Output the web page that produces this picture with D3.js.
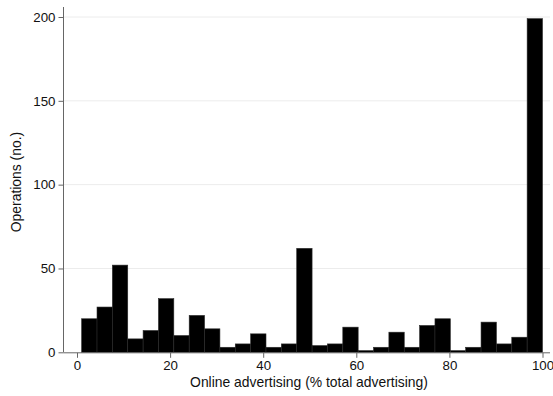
<!DOCTYPE html>
<html>
<head>
<meta charset="utf-8">
<script src="https://cdn.jsdelivr.net/npm/d3@7"></script>
<style>
  body { margin: 0; background: #fff; }
  text { font-family: "Liberation Sans", Arial, sans-serif; fill: #111; }
</style>
</head>
<body>
<div id="chart"></div>
<script>
// histogram: 30 bins, start 1, width 3.3
const binStart = 1;
const binWidth = 3.3;
const counts = [20, 27, 52, 8, 13, 32, 10, 22, 14, 3,
                5, 11, 3, 5, 62, 4, 5, 15, 1, 3,
                12, 3, 16, 20, 1, 3, 18, 5, 9, 199];
const xTicks = [0, 20, 40, 60, 80, 100];
const yTicks = [0, 50, 100, 150, 200];

const W = 553, H = 396;
const margin = {top: 7, right: 3, bottom: 44, left: 64};

const svg = d3.select('#chart').append('svg')
  .attr('width', W).attr('height', H);

const x = d3.scaleLinear().domain([0, 100]).range([77, 542.5]);
const y = d3.scaleLinear().domain([0, 200]).range([352.3, 17]);

const bins = counts.map((c, i) => ({x0: binStart + i * binWidth, x1: binStart + (i + 1) * binWidth, n: c}));

// gridlines
svg.append('g').selectAll('line')
  .data(yTicks.filter(d => d > 0))
  .enter().append('line')
  .attr('x1', margin.left).attr('x2', W - margin.right)
  .attr('y1', d => y(d)).attr('y2', d => y(d))
  .style('stroke', '#ececec').style('stroke-width', 1);

svg.selectAll('rect.bar')
  .data(bins)
  .enter().append('rect')
  .attr('class', 'bar')
  .attr('x', d => x(d.x0))
  .attr('width', d => x(d.x1) - x(d.x0))
  .attr('y', d => y(d.n))
  .attr('height', d => y(0) - y(d.n))
  .style('fill', '#000')
  .style('stroke', '#2a2a2a')
  .style('stroke-width', 0.6);

// axes
const yAxis = d3.axisLeft(y).tickValues(yTicks).tickSize(5).tickPadding(3);
const xAxis = d3.axisBottom(x).tickValues(xTicks).tickSize(5).tickPadding(3);

const gy = svg.append('g')
  .attr('transform', 'translate(' + (margin.left - 0.5) + ',0)')
  .call(yAxis);
gy.select('.domain').remove();
gy.append('line')
  .attr('x1', 0).attr('x2', 0)
  .attr('y1', margin.top).attr('y2', y(0))
  .style('stroke', '#666');

const gx = svg.append('g')
  .attr('transform', 'translate(0,' + (y(0) + 0.5) + ')')
  .call(xAxis);
gx.select('.domain').remove();
gx.append('line')
  .attr('x1', margin.left - 0.5).attr('x2', 550)
  .attr('y1', 0).attr('y2', 0)
  .style('stroke', '#666');

svg.selectAll('.tick line').style('stroke', '#666');
svg.selectAll('.tick text').style('font-size', '13.3px').style('fill', '#111');

svg.append('text')
  .attr('x', 309).attr('y', 387)
  .attr('text-anchor', 'middle')
  .style('font-size', '13.9px')
  .text('Online advertising (% total advertising)');

svg.append('text')
  .attr('transform', 'translate(21,182) rotate(-90)')
  .attr('text-anchor', 'middle')
  .style('font-size', '13.9px')
  .text('Operations (no.)');
</script>
</body>
</html>
